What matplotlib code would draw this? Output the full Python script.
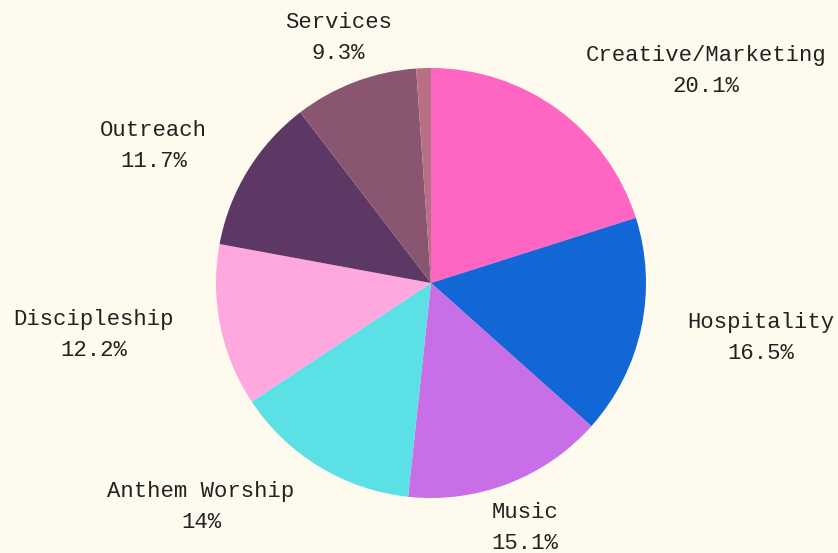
import numpy as np
import matplotlib
matplotlib.use("Agg")
import matplotlib.pyplot as plt

categories = ["Creative/Marketing", "Hospitality", "Music", "Anthem Worship",
              "Discipleship", "Outreach", "Services", ""]
values = [20.1, 16.5, 15.1, 14.0, 12.2, 11.7, 9.3, 1.1]
pct_labels = ["20.1%", "16.5%", "15.1%", "14%", "12.2%", "11.7%", "9.3%", ""]
colors = ["#FF66C4", "#1366D6", "#C86EE6", "#5BE0E6", "#FFA8E0",
          "#5E3864", "#8A5570", "#B87085"]

bg = "#FFFAEE"
fig = plt.figure(figsize=(8.38, 5.53), dpi=100, facecolor=bg)
ax = fig.add_axes([0, 0, 1, 1])
ax.set_facecolor(bg)

wedges, _ = ax.pie(values, colors=colors, startangle=90, counterclock=False,
                   radius=1.0, wedgeprops=dict(linewidth=0))

for w, name, pct in zip(wedges, categories, pct_labels):
    if not name:
        continue
    mid = np.deg2rad((w.theta1 + w.theta2) / 2)
    x, y = 1.22 * np.cos(mid), 1.22 * np.sin(mid)
    c = np.cos(mid)
    if c > 0.45:
        ha = "left"
    elif c < -0.45:
        ha = "right"
    else:
        ha = "center"
    ax.text(x, y, f"{name}\n{pct}", ha=ha, va="center", multialignment="center",
            fontsize=16, family=["Liberation Mono", "DejaVu Sans Mono"],
            color="#222222", linespacing=1.62)

R = 215.0
ax.set_xlim(-431 / R, (838 - 431) / R)
ax.set_ylim(-270 / R, 283 / R)
ax.set_aspect("auto")
ax.axis("off")

fig.savefig("out.png", dpi=100, facecolor=bg)
